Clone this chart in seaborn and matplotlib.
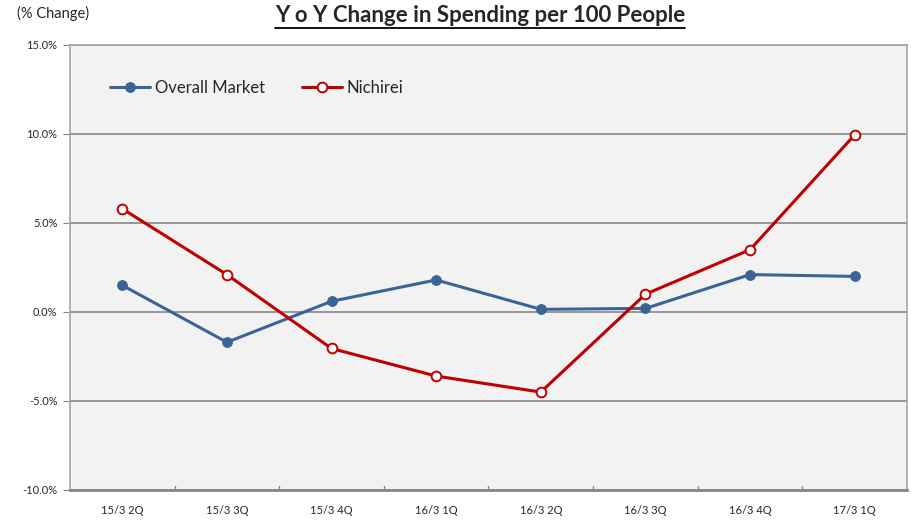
import pandas as pd
import matplotlib.pyplot as plt
import seaborn as sns
from matplotlib.lines import Line2D

quarters = ['15/3 2Q', '15/3 3Q', '15/3 4Q', '16/3 1Q', '16/3 2Q', '16/3 3Q', '16/3 4Q', '17/3 1Q']
overall_market = [1.5, -1.7, 0.6, 1.8, 0.15, 0.2, 2.1, 2.0]
nichirei = [5.8, 2.1, -2.05, -3.6, -4.5, 1.0, 3.5, 9.95]
y_ticks = [-10, -5, 0, 5, 10, 15]

BLUE = '#3A6496'
RED = '#C00000'


def draw_figure():
    sns.set_style('white')
    plt.rcParams['font.family'] = ['Lato', 'DejaVu Sans']
    fig = plt.figure(figsize=(9.11, 5.2), dpi=100)
    ax = fig.add_axes([0.0768, 0.0577, 0.9188, 0.8558])
    ax.set_facecolor('#F2F2F2')

    df = pd.DataFrame({'Quarter': quarters, 'Overall Market': overall_market, 'Nichirei': nichirei})

    sns.lineplot(data=df, x='Quarter', y='Overall Market', ax=ax, color=BLUE, linewidth=2.2,
                 marker='o', markersize=7, markerfacecolor=BLUE, markeredgecolor=BLUE,
                 label='Overall Market', sort=False)
    sns.lineplot(data=df, x='Quarter', y='Nichirei', ax=ax, color=RED, linewidth=2.2,
                 marker='o', markersize=7, markerfacecolor='white', markeredgecolor=RED,
                 markeredgewidth=1.4, label='Nichirei', sort=False)

    ax.set_xlim(-0.5, len(quarters) - 0.5)
    ax.set_ylim(-10, 15)
    ax.set_yticks(y_ticks)
    ax.set_yticklabels([f'{v:.1f}%' for v in y_ticks], fontsize=8)
    ax.set_xticks(range(len(quarters)))
    ax.set_xticklabels(quarters, fontsize=8)
    ax.tick_params(axis='x', length=0, pad=11)
    ax.tick_params(axis='y', length=5, color='#868686', left=True, pad=4)
    ax.set_xlabel('')
    ax.set_ylabel('')

    # boundary ticks on x axis pointing inward
    for b in range(1, len(quarters)):
        ax.plot([b - 0.5, b - 0.5], [-10, -9.75], color='#868686', lw=1, clip_on=False)

    ax.yaxis.grid(True, color='#868686', lw=1.2)
    ax.xaxis.grid(False)
    for side in ['left', 'right', 'top']:
        ax.spines[side].set_color('#A6A6A6')
        ax.spines[side].set_linewidth(1.2)
    ax.spines['bottom'].set_color('#868686')
    ax.spines['bottom'].set_linewidth(2)

    ax.legend(loc='upper left', bbox_to_anchor=(0.03, 0.955), ncol=2, frameon=False,
              fontsize=12, handlelength=2.4, columnspacing=2.2, handletextpad=0.3)

    fig.text(0.019, 0.975, '(% Change)', fontsize=10.5, ha='left', va='center')
    title = fig.text(0.527, 0.97, 'Y o Y Change in Spending per 100 People', fontsize=16,
                     fontweight='bold', ha='center', va='center')

    fig.canvas.draw()
    bb = title.get_window_extent().transformed(fig.transFigure.inverted())
    fig.add_artist(Line2D([bb.x0, bb.x1], [bb.y0 - 0.004, bb.y0 - 0.004], color='black', lw=1.3,
                          transform=fig.transFigure))

    fig.savefig('out.png', dpi=100)


def main():
    draw_figure()


if __name__ == '__main__':
    main()
